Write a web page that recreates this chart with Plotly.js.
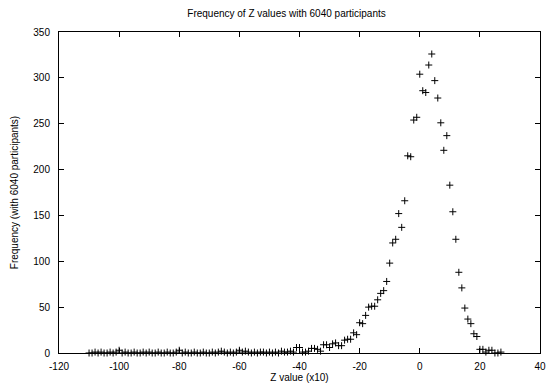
<!DOCTYPE html>
<html>
<head>
<meta charset="utf-8">
<script src="https://cdn.plot.ly/plotly-3.0.1.min.js"></script>
<style>html,body{margin:0;padding:0;background:#fff;}#chart{width:548px;height:383px;}</style>
</head>
<body>
<div id="chart"></div>
<script>
// Z value (x10)
const zValues = [
  -110,-109,-108,-107,-106,-105,-104,-103,-102,-101,
  -100,-99,-98,-97,-96,-95,-94,-93,-92,-91,
  -90,-89,-88,-87,-86,-85,-84,-83,-82,-81,
  -80,-79,-78,-77,-76,-75,-74,-73,-72,-71,
  -70,-69,-68,-67,-66,-65,-64,-63,-62,-61,
  -60,-59,-58,-57,-56,-55,-54,-53,-52,-51,
  -50,-49,-48,-47,-46,-45,-44,-43,-42,-41,
  -40,-39,-38,-37,-36,-35,-34,-33,-32,-31,
  -30,-29,-28,-27,-26,-25,-24,-23,-22,-21,
  -20,-19,-18,-17,-16,-15,-14,-13,-12,-11,
  -10,-9,-8,-7,-6,-5,-4,-3,-2,-1,
  0,1,2,3,4,5,6,7,8,9,
  10,11,12,13,14,15,16,17,18,19,
  20,21,22,23,24,25,26,27
];
// Frequency
const frequency = [
  0,0,1,0,1,0,0,1,0,1,
  3,0,1,0,0,1,0,0,1,0,
  1,0,0,1,0,0,1,0,0,1,
  3,0,1,0,0,1,0,0,1,0,
  0,1,0,1,2,1,0,1,0,1,
  3,1,2,1,0,1,0,1,1,0,
  1,0,1,0,2,1,1,2,1,6,
  6,1,1,2,5,5,4,2,9,9,
  6,10,11,8,8,14,15,15,22,20,
  33,32,41,50,51,51,58,65,68,78,
  98,120,124,152,137,166,215,214,254,257,
  304,286,284,314,326,297,278,251,221,237,
  183,154,124,88,71,49,37,32,21,18,
  4,4,1,3,3,0,0,1
];
const xTicks = [-120,-100,-80,-60,-40,-20,0,20,40];
const yTicks = [0,50,100,150,200,250,300,350];

const font = {family: '"Liberation Sans", Arial, Helvetica, sans-serif', size: 10, color: '#000'};

const trace = {
  x: zValues,
  y: frequency,
  type: 'scatter',
  mode: 'markers',
  marker: {symbol: 'cross-thin-open', size: 5, color: '#000', line: {color: '#000', width: 1}},
  cliponaxis: false,
  hoverinfo: 'x+y'
};

const axisCommon = {
  showline: true, linecolor: '#000', linewidth: 1, mirror: 'allticks',
  ticks: 'inside', ticklen: 5, tickcolor: '#000', tickwidth: 1,
  showgrid: false, zeroline: false, tickfont: font
};

const layout = {
  width: 548, height: 383,
  margin: {l: 59, r: 8, t: 32, b: 30},
  paper_bgcolor: '#fff', plot_bgcolor: '#fff',
  font: font,
  showlegend: false,
  title: {text: 'Frequency of Z values with 6040 participants', font: font,
          x: 0.473, xref: 'paper', xanchor: 'center', y: 1 - 13/383, yref: 'container', yanchor: 'middle'},
  xaxis: Object.assign({}, axisCommon, {
    range: [-120, 40], tickmode: 'array', tickvals: xTicks, ticktext: xTicks.map(String),
    ticklabelstandoff: 4,
    title: {text: 'Z value (x10)', font: font, standoff: 4}
  }),
  yaxis: Object.assign({}, axisCommon, {
    range: [0, 350], tickmode: 'array', tickvals: yTicks, ticktext: yTicks.map(String),
    ticklabelstandoff: 6,
    title: {text: 'Frequency (with 6040 participants)', font: font, standoff: 12}
  })
};

Plotly.newPlot('chart', [trace], layout, {staticPlot: true, displayModeBar: false});
</script>
</body>
</html>
